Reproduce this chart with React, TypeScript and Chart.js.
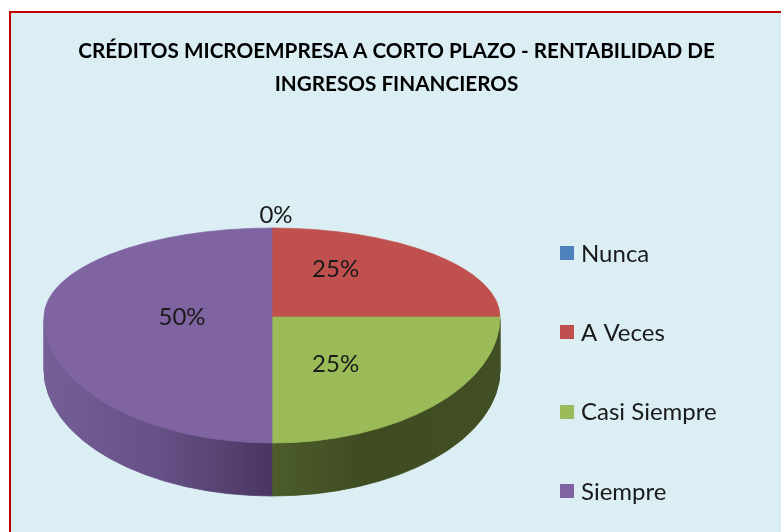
import React, { useEffect, useRef } from "react";
import { Chart, registerables } from "chart.js";

Chart.register(...registerables);

// ---- data ----
const TITLE_LINES = [
  "CRÉDITOS MICROEMPRESA A CORTO PLAZO - RENTABILIDAD DE",
  "INGRESOS FINANCIEROS",
];
const CATEGORIES = ["Nunca", "A Veces", "Casi Siempre", "Siempre"];
const VALUES = [0, 25, 25, 50];

// ---- styles ----
const TOP_COLORS = ["#4F81BD", "#C0504D", "#9BBB59", "#8064A2"];
const FONT = "Lato, 'Open Sans', sans-serif";
const BG = "#DAEEF3";

// pie geometry (canvas px)
const PIE_X = 261;
const PIE_Y = 304;
const PIE_R = 228;
const KY_BACK = 89 / 228;
const KY_FRONT = 126 / 228;
const DEPTH = 53;
const LABEL_R = 90;
const LABEL_KY = 0.75;
const ZERO_OFFSET = 13;

// legend
const LEG_BOX_X = 549;
const LEG_TEXT_X = 570;
const LEG_TOP = 240;
const LEG_GAP = 79.3;
const LEG_BOX = 14;

function drawArcWith(arc: any, ctx: CanvasRenderingContext2D, overrides: any) {
  const proxy = Object.create(arc);
  proxy.options = Object.assign({}, arc.options, overrides);
  proxy.draw(ctx);
}

function sideGradients(ctx: CanvasRenderingContext2D, cx: number) {
  const ux = (sx: number) => sx - PIE_X + cx;
  const mk = (stops: [number, string][]) => {
    const g = ctx.createLinearGradient(ux(PIE_X - PIE_R), 0, ux(PIE_X + PIE_R), 0);
    stops.forEach(([p, c]) => g.addColorStop(p, c));
    return g;
  };
  return [
    "#3A5E8A",
    "#8A3836",
    mk([
      [0, "#4E5E2C"],
      [0.5, "#4D5C2B"],
      [0.7, "#3F4C22"],
      [1, "#424F25"],
    ]),
    mk([
      [0, "#745E96"],
      [0.25, "#665187"],
      [0.5, "#4A3660"],
      [1, "#4A3660"],
    ]),
  ];
}

const pie3d = {
  id: "pie3d",
  beforeDatasetsDraw(chart: any) {
    const ctx: CanvasRenderingContext2D = chart.ctx;
    const arcs = chart.getDatasetMeta(0).data;
    if (!arcs.length) return false;
    const cx = arcs[0].x;
    const cy = arcs[0].y;
    const W = chart.width;
    const H = chart.height;
    const place = (ky: number, dy: number) => {
      ctx.translate(PIE_X, PIE_Y + dy);
      ctx.scale(1, ky);
      ctx.translate(-cx, -cy);
    };
    const sides = sideGradients(ctx, cx);
    for (let d = DEPTH; d >= 1; d--) {
      ctx.save();
      ctx.beginPath();
      ctx.rect(0, PIE_Y + d, W, H);
      ctx.clip();
      place(KY_FRONT, d);
      arcs.forEach((arc: any, i: number) =>
        drawArcWith(arc, ctx, { backgroundColor: sides[i], borderColor: sides[i], borderWidth: 1 })
      );
      ctx.restore();
    }
    ctx.save();
    ctx.beginPath();
    ctx.rect(0, 0, W, PIE_Y);
    ctx.clip();
    place(KY_BACK, 0);
    arcs.forEach((arc: any) => arc.draw(ctx));
    ctx.restore();
    ctx.save();
    ctx.beginPath();
    ctx.rect(0, PIE_Y, W, H);
    ctx.clip();
    place(KY_FRONT, 0);
    arcs.forEach((arc: any) => arc.draw(ctx));
    ctx.restore();
    return false;
  },
  afterDraw(chart: any) {
    const ctx: CanvasRenderingContext2D = chart.ctx;
    const arcs = chart.getDatasetMeta(0).data;
    const values: number[] = chart.data.datasets[0].data;
    const total = values.reduce((a, b) => a + b, 0);
    ctx.save();
    ctx.fillStyle = "#1a1a1a";
    ctx.font = `24px ${FONT}`;
    ctx.textAlign = "center";
    ctx.textBaseline = "middle";
    arcs.forEach((arc: any, i: number) => {
      const a = (arc.startAngle + arc.endAngle) / 2;
      const pct = Math.round((values[i] / total) * 100) + "%";
      let x: number, y: number;
      if (values[i] === 0) {
        const ky = Math.sin(a) < 0 ? KY_BACK : KY_FRONT;
        x = PIE_X + PIE_R * Math.cos(a) + 4;
        y = PIE_Y + PIE_R * Math.sin(a) * ky - ZERO_OFFSET;
      } else {
        x = PIE_X + LABEL_R * Math.cos(a);
        y = PIE_Y + LABEL_R * Math.sin(a) * LABEL_KY;
      }
      ctx.fillText(pct, x, y);
    });
    // legend
    const labels: string[] = chart.data.labels;
    const colors: string[] = chart.data.datasets[0].backgroundColor;
    ctx.textAlign = "left";
    labels.forEach((lab, i) => {
      const cyL = LEG_TOP + i * LEG_GAP;
      ctx.fillStyle = colors[i];
      ctx.fillRect(LEG_BOX_X, Math.round(cyL - LEG_BOX / 2), LEG_BOX, LEG_BOX);
      ctx.fillStyle = "#1a1a1a";
      ctx.fillText(lab, LEG_TEXT_X, cyL + 1);
    });
    ctx.restore();
  },
};

export default function App() {
  const ref = useRef<HTMLCanvasElement>(null);
  useEffect(() => {
    if (!ref.current) return;
    const chart = new Chart(ref.current, {
      type: "pie",
      data: {
        labels: CATEGORIES,
        datasets: [
          {
            data: VALUES,
            backgroundColor: TOP_COLORS,
            borderColor: TOP_COLORS,
            borderWidth: 1,
            radius: PIE_R,
            clip: false,
          } as any,
        ],
      },
      options: {
        responsive: false,
        animation: false,
        events: [],
        plugins: {
          legend: { display: false },
          tooltip: { enabled: false },
          title: {
            display: true,
            text: TITLE_LINES,
            color: "#000",
            font: { family: FONT, size: 20.7, weight: "bold", lineHeight: 33 / 20.7 },
            padding: { top: 22, bottom: 0 },
          },
        },
      } as any,
      plugins: [pie3d],
    });
    return () => chart.destroy();
  }, []);
  return (
    <div style={{ position: "fixed", left: 0, top: 0, width: 781, height: 532, overflow: "hidden", background: "#fff" }}>
      <div
        style={{
          position: "absolute",
          left: 9,
          top: 11,
          width: 771,
          height: 521,
          border: "2px solid #C00000",
          background: BG,
        }}
      >
        <canvas ref={ref} width={771} height={519} style={{ display: "block", width: 771, height: 519 }} />
      </div>
    </div>
  );
}
